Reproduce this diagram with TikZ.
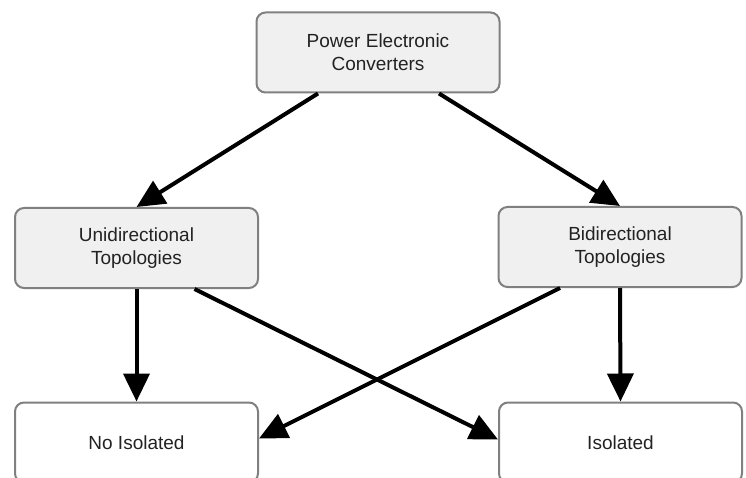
\documentclass[tikz,border=0pt]{standalone}
\usepackage{fontspec}
\setmainfont{Liberation Sans}
\usetikzlibrary{arrows.meta}
\definecolor{boxgray}{RGB}{240,240,240}
\definecolor{edgegray}{RGB}{128,128,128}
\definecolor{txt}{RGB}{34,34,34}
\begin{document}
\begin{tikzpicture}[x=1pt,y=-1pt,
  box/.style={draw=edgegray, line width=2pt, rounded corners=9pt, fill=boxgray,
    minimum width=243pt, minimum height=80pt, align=center, text=txt,
    font=\fontsize{19}{23}\selectfont, inner sep=0pt},
  leaf/.style={box, fill=white},
  conn/.style={line width=4pt, -{Triangle[length=28pt,width=26pt]}}]
\useasboundingbox (0,0) rectangle (746,478);
\clip (0,0) rectangle (746,478);
\node[box] (top) at (378,52.5) {Power Electronic\\Converters};
\node[box] (uni) at (136.5,248) {Unidirectional\\Topologies};
\node[box] (bi) at (620,247) {Bidirectional\\Topologies};
\node[leaf] (noiso) at (136.5,442.5) {No Isolated};
\node[leaf] (iso) at (620.5,442.5) {Isolated};
\draw[conn] ([xshift=-60pt]top.south) -- (uni.north);
\draw[conn] ([xshift=61pt]top.south) -- (bi.north);
\draw[conn] (uni.south) -- (noiso.north);
\draw[conn] (bi.south) -- (iso.north);
\draw[conn] ([xshift=58pt]uni.south) -- ([yshift=3pt]iso.west);
\draw[conn] ([xshift=-60pt]bi.south) -- ([yshift=4pt]noiso.east);
\end{tikzpicture}
\end{document}
